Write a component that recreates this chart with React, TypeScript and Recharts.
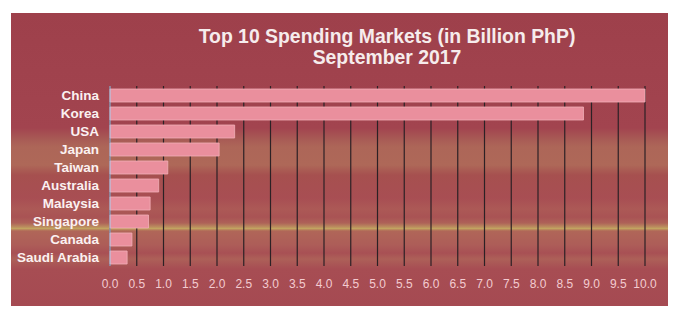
import { Bar, BarChart, CartesianGrid, XAxis, YAxis } from "recharts";

const markets = [
  "China",
  "Korea",
  "USA",
  "Japan",
  "Taiwan",
  "Australia",
  "Malaysia",
  "Singapore",
  "Canada",
  "Saudi Arabia",
];
const spending = [10.0, 8.85, 2.33, 2.04, 1.08, 0.91, 0.75, 0.72, 0.41, 0.32];
const xTicks = [
  0, 0.5, 1, 1.5, 2, 2.5, 3, 3.5, 4, 4.5, 5, 5.5, 6, 6.5, 7, 7.5, 8, 8.5, 9,
  9.5, 10,
];

const data = markets.map((m, i) => ({ market: m, value: spending[i] }));

const panelBg =
  "linear-gradient(180deg, #9e404b 0px, #a2444f 115px, #a85a55 126px, #ad6658 134px, #ae6858 152px, #a6504f 162px, #a84e53 185px, #ac5956 196px, #a95354 204px, #ae6258 210px, #bb8e5e 214px, #c2a460 215.5px, #b06658 218px, #ad5d58 232px, #a85054 240px, #ad6058 246px, #a74d53 256px, #a54a52 293px)";

export default function App() {
  return (
    <div style={{ position: "relative", width: 673, height: 302 }}>
      <div
        style={{
          position: "absolute",
          left: 3,
          top: 5,
          width: 657,
          height: 293,
          background: panelBg,
          fontFamily: "'Liberation Sans', Arial, sans-serif",
        }}
      >
        <div
          style={{
            position: "absolute",
            left: 0,
            top: 13,
            width: 752,
            textAlign: "center",
            color: "#f6ecec",
            fontWeight: "bold",
            fontSize: 19.4,
            lineHeight: "21px",
          }}
        >
          Top 10 Spending Markets (in Billion PhP)
          <br />
          September 2017
        </div>
        <BarChart
          width={657}
          height={293}
          data={data}
          layout="vertical"
          margin={{ top: 73, right: 23, bottom: 10, left: 0 }}
          barCategoryGap={2.5}
        >
          <CartesianGrid
            horizontal={false}
            stroke="#2c2125"
            strokeWidth={1.2}
          />
          <XAxis
            type="number"
            domain={[0, 10]}
            ticks={xTicks}
            interval={0}
            axisLine={false}
            tickLine={false}
            tickMargin={7}
            height={30}
            tickFormatter={(v: number) => v.toFixed(1)}
            tick={{
              fill: "#f3cbd0",
              fontSize: 12,
              fontFamily: "'Liberation Sans', Arial, sans-serif",
            }}
          />
          <YAxis
            type="category"
            dataKey="market"
            width={99}
            interval={0}
            axisLine={{ stroke: "#b4bddc", strokeWidth: 1.2 }}
            tickLine={false}
            tickMargin={5}
            tick={{
              fill: "#fbf1f1",
              fontSize: 13.5,
              fontWeight: "bold",
              fontFamily: "'Liberation Sans', Arial, sans-serif",
            }}
          />
          <Bar
            dataKey="value"
            fill="#ea8f9d"
            stroke="#f2aeb8"
            strokeWidth={0.8}
            barSize={13}
            isAnimationActive={false}
          />
        </BarChart>
      </div>
    </div>
  );
}
